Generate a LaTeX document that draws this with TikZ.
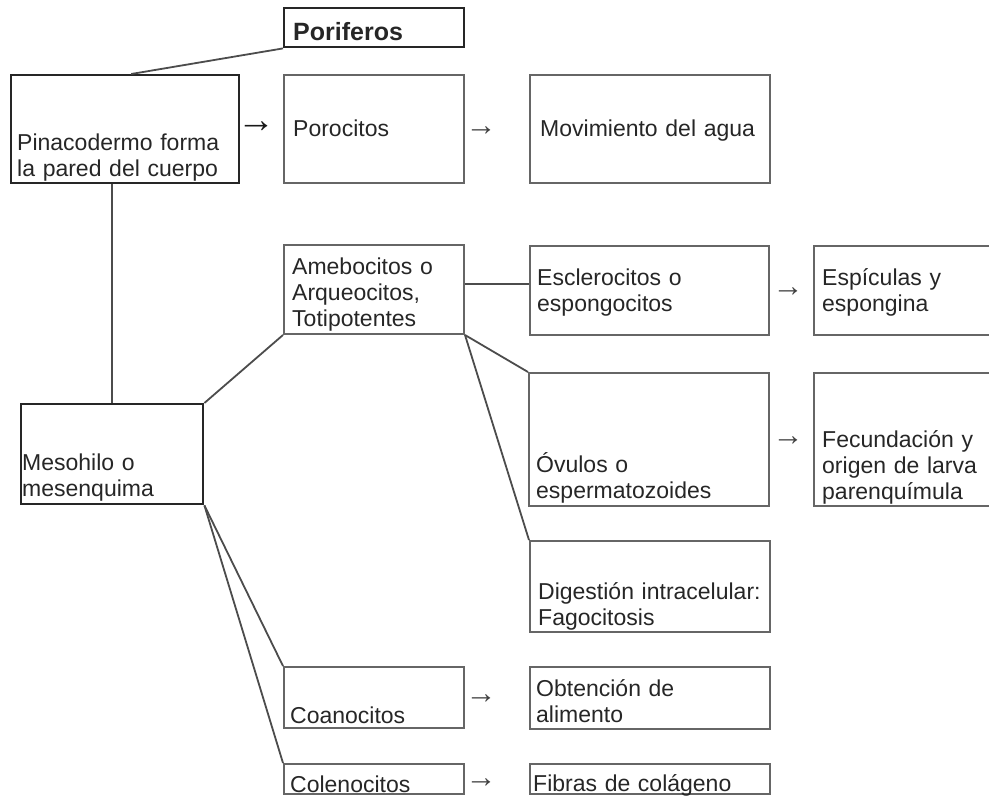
\documentclass[tikz,border=0pt]{standalone}
\usepackage{fontspec}
\setmainfont{Liberation Sans}
\tikzset{
  caja/.style 2 args={draw=black!60, line width=2pt, minimum width=#1, minimum height=#2, inner sep=0pt, anchor=north west},
  cajaosc/.style={draw=black!85, line width=2.4pt},
  texto/.style={anchor=base west, inner sep=0pt, text width=260pt, align=left, text=black!85, font=\fontsize{23}{26}\selectfont},
  flecha/.style={inner sep=0pt, text=black!75, font=\fontsize{31}{31}\selectfont},
  linea/.style={draw=black!70, line width=1.8pt}
}

\begin{document}
\begin{tikzpicture}[x=1pt, y=-1pt]
    \useasboundingbox (0,0) rectangle (989,796);
    \clip (0,0) rectangle (989,796);
    \node[caja={180pt}{39pt}, cajaosc] (pori) at (283,7) {};
    \node[caja={228pt}{108pt}, cajaosc] (pina) at (10,74) {};
    \node[caja={180pt}{108pt}] (poro) at (283,74) {};
    \node[caja={240pt}{108pt}] (movi) at (529,74) {};
    \node[caja={180pt}{89pt}] (amebo) at (283,244) {};
    \node[caja={239pt}{89pt}] (esclero) at (529,245) {};
    \node[caja={200pt}{89pt}] (espic) at (813,245) {};
    \node[caja={182pt}{100pt}, cajaosc] (meso) at (20,403) {};
    \node[caja={240pt}{133pt}] (ovul) at (528,372) {};
    \node[caja={200pt}{133pt}] (fecun) at (813,372) {};
    \node[caja={240pt}{91pt}] (dige) at (529,540) {};
    \node[caja={180pt}{61pt}] (coano) at (283,666) {};
    \node[caja={240pt}{62pt}] (obten) at (529,666) {};
    \node[caja={180pt}{30pt}] (coleno) at (283,763) {};
    \node[caja={240pt}{30pt}] (fibras) at (529,763) {};

    \node[texto, font=\fontsize{25}{26}\selectfont\bfseries] (t-pori) at (293,40) {Poriferos};
    \node[texto] (t-pina) at (17,150) {Pinacodermo forma\\la pared del cuerpo};
    \node[texto] (t-poro) at (293,136) {Porocitos};
    \node[texto] (t-movi) at (540,136) {Movimiento del agua};
    \node[texto] (t-amebo) at (292,274) {Amebocitos o\\Arqueocitos,\\Totipotentes};
    \node[texto] (t-esclero) at (537,285) {Esclerocitos o\\espongocitos};
    \node[texto] (t-espic) at (822,285) {Espículas y\\espongina};
    \node[texto] (t-meso) at (22,470) {Mesohilo o\\mesenquima};
    \node[texto] (t-ovul) at (536,472) {Óvulos o\\espermatozoides};
    \node[texto] (t-fecun) at (822,447) {Fecundación y\\origen de larva\\parenquímula};
    \node[texto] (t-dige) at (538,599) {Digestión intracelular:\\Fagocitosis};
    \node[texto] (t-coano) at (290,723) {Coanocitos};
    \node[texto] (t-obten) at (536,696) {Obtención de\\alimento};
    \node[texto] (t-coleno) at (290,792) {Colenocitos};
    \node[texto] (t-fibras) at (533,791) {Fibras de colágeno};

    \node[flecha, text=black!90, font=\fontsize{38}{38}\selectfont\bfseries] (f1) at (256,127) {→};
    \node[flecha] (f2) at (481,131) {→};
    \node[flecha] (f3) at (788,292) {→};
    \node[flecha] (f4) at (788,441) {→};
    \node[flecha] (f5) at (481,699) {→};
    \node[flecha] (f6) at (481,783) {→};

    \coordinate (nudo) at ([yshift=5.5pt]amebo.east);
    \draw[linea] (pori.south west) -- ([xshift=6pt]pina.north);
    \draw[linea] (meso.north) -- (meso.north |- pina.south);
    \draw[linea] (meso.north east) -- (amebo.south west);
    \draw[linea] (nudo) -- (nudo -| esclero.west);
    \draw[linea] (amebo.south east) -- (ovul.north west);
    \draw[linea] (amebo.south east) -- (dige.north west);
    \draw[linea] (meso.south east) -- (coano.north west);
    \draw[linea] (meso.south east) -- (coleno.north west);
\end{tikzpicture}
\end{document}
